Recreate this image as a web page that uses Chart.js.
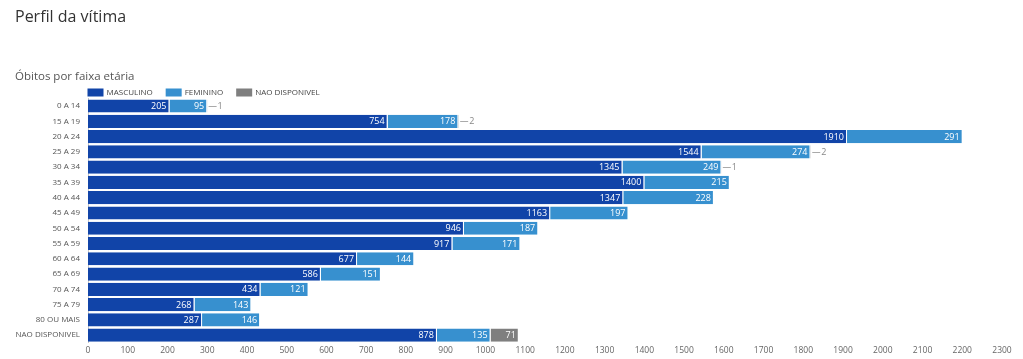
<!DOCTYPE html>
<html><head><meta charset="utf-8">
<script src="https://cdn.jsdelivr.net/npm/chart.js@4.4.0/dist/chart.umd.min.js"></script>
<style>html,body{margin:0;padding:0;background:#fff;overflow:hidden}#wrap{width:1023px;height:359px;position:relative}</style>
</head><body><div id="wrap"><canvas id="c"></canvas></div>
<script>
const categories = ["0 A 14","15 A 19","20 A 24","25 A 29","30 A 34","35 A 39","40 A 44","45 A 49","50 A 54","55 A 59","60 A 64","65 A 69","70 A 74","75 A 79","80 OU MAIS","NAO DISPONIVEL"];
const masculino = [205,754,1910,1544,1345,1400,1347,1163,946,917,677,586,434,268,287,878];
const feminino = [95,178,291,274,249,215,228,197,187,171,144,151,121,143,146,135];
const naoDisponivel = [1,2,null,2,1,null,null,null,null,null,null,null,null,null,null,71];
const seriesNames = ["MASCULINO","FEMININO","NAO DISPONIVEL"];
const colors = ["#1144a8","#3790cf","#7f7f7f"];
const FONT = "'Open Sans', 'Noto Sans', sans-serif";

const legendPlugin = {
  id: 'customLegend',
  afterDraw(chart) {
    const ctx = chart.ctx;
    const y = 92.5;
    let x = chart.chartArea.left - 0.5;
    ctx.save();
    ctx.font = "8px " + FONT;
    ctx.textBaseline = 'middle';
    seriesNames.forEach((n, i) => {
      ctx.fillStyle = colors[i];
      ctx.fillRect(x, y - 4, 16, 8);
      x += 19;
      ctx.fillStyle = '#444';
      ctx.fillText(n, x, y);
      x += ctx.measureText(n).width + 13;
    });
    ctx.restore();
  }
};

const labelPlugin = {
  id: 'barLabels',
  afterDatasetsDraw(chart) {
    const ctx = chart.ctx;
    ctx.save();
    ctx.font = "9px " + FONT;
    ctx.textBaseline = 'middle';
    chart.data.datasets.forEach((ds, di) => {
      const meta = chart.getDatasetMeta(di);
      meta.data.forEach((bar, i) => {
        const v = ds.data[i];
        if (v == null) return;
        const txt = String(v);
        const w = ctx.measureText(txt).width;
        const len = bar.x - bar.base;
        if (len > w + 6) {
          ctx.fillStyle = '#fff';
          ctx.textAlign = 'right';
          ctx.fillText(txt, bar.x - 3, bar.y + 0.5);
        } else {
          ctx.strokeStyle = '#aaa';
          ctx.lineWidth = 1;
          ctx.beginPath();
          ctx.moveTo(bar.x + 1, Math.round(bar.y) + 0.5);
          ctx.lineTo(bar.x + 9, Math.round(bar.y) + 0.5);
          ctx.stroke();
          ctx.fillStyle = '#888';
          ctx.textAlign = 'left';
          ctx.fillText(txt, bar.x + 10, bar.y + 0.5);
        }
      });
    });
    ctx.restore();
  }
};

const mk = (label, data, color) => ({
  label, data, backgroundColor: color, borderColor: '#ffffff', borderWidth: {right: 1, left: 0, top: 0, bottom: 0},
  borderSkipped: false, barPercentage: 0.86, categoryPercentage: 1
});

new Chart(document.getElementById('c'), {
  type: 'bar',
  data: {
    labels: categories,
    datasets: [mk(seriesNames[0], masculino, colors[0]), mk(seriesNames[1], feminino, colors[1]), mk(seriesNames[2], naoDisponivel, colors[2])]
  },
  options: {
    indexAxis: 'y',
    responsive: true,
    maintainAspectRatio: false,
    animation: false,
    layout: {padding: {left: 15, right: 21, top: 0, bottom: 0}},
    plugins: {
      legend: {display: false},
      tooltip: {enabled: false},
      title: {display: true, text: 'Perfil da vítima', align: 'start', color: '#333', font: {family: FONT, size: 16, weight: 'normal'}, padding: {top: 7.4, bottom: 0}},
      subtitle: {display: true, text: 'Óbitos por faixa etária', align: 'start', color: '#555', font: {family: FONT, size: 11.5, weight: 'normal'}, padding: {top: 43.5, bottom: 14.5}}
    },
    scales: {
      x: {
        stacked: true, min: 0, max: 2300,
        grid: {display: false, drawTicks: false},
        border: {display: false},
        ticks: {stepSize: 100, color: '#666', font: {family: FONT, size: 8.5}, padding: 3, maxRotation: 0, autoSkip: false,
          callback: (v) => String(v)}
      },
      y: {
        stacked: true,
        afterFit: (s) => { s.width = 73; },
        grid: {display: false, drawTicks: false},
        border: {display: true, color: '#c8c8c8'},
        ticks: {color: '#555', font: {family: FONT, size: 8}, padding: 8, autoSkip: false}
      }
    }
  },
  plugins: [legendPlugin, labelPlugin]
});
</script></body></html>
